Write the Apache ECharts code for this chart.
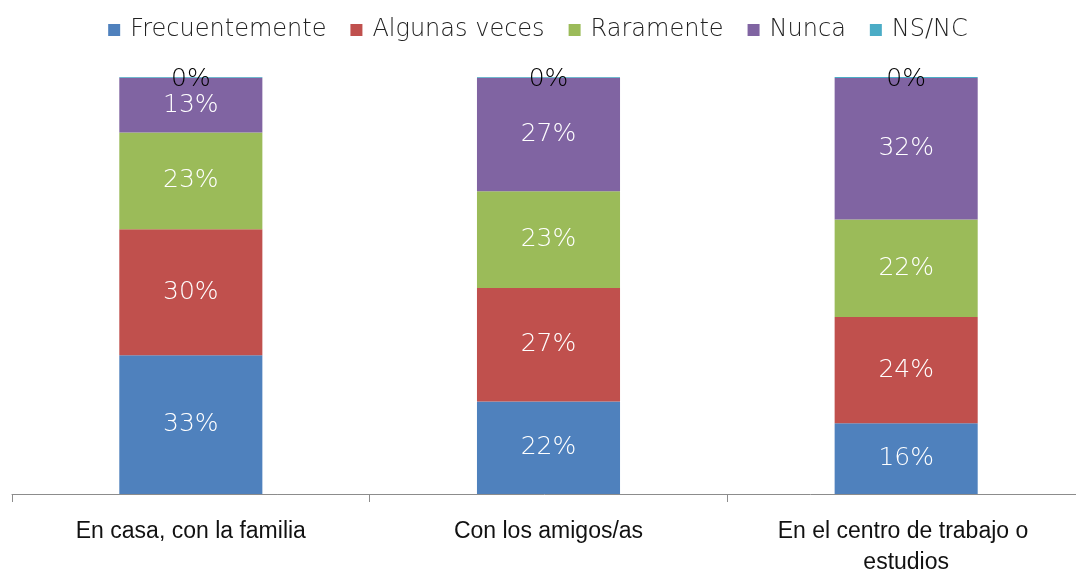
<!DOCTYPE html>
<html>
<head>
<meta charset="utf-8">
<script src="https://cdn.jsdelivr.net/npm/echarts@6/dist/echarts.min.js"></script>
<style>
  html, body { margin: 0; padding: 0; background: #fff; }
  #chart { width: 1076px; height: 571px; }
</style>
</head>
<body>
<div id="chart"></div>
<script>
// categorias del eje
var categories = ['En casa, con la familia', 'Con los amigos/as', 'En el centro de trabajo o estudios'];
// porcentajes por serie (tal como se leen en las etiquetas)
var frecuentemente = [33, 22, 16];
var algunasVeces = [30, 27, 24];
var raramente = [23, 23, 22];
var nunca = [13, 27, 32];
var nsnc = [0.2, 0.2, 0.2];

var seriesNames = ['Frecuentemente', 'Algunas veces', 'Raramente', 'Nunca', 'NS/NC'];
var seriesValues = [frecuentemente, algunasVeces, raramente, nunca, nsnc];
var colors = ['#4f81bd', '#c0504d', '#9bbb59', '#8064a2', '#4bacc6'];

// la barra se dibuja al 100%
var totals = categories.map(function (c, i) {
  var s = 0;
  for (var k = 0; k < seriesValues.length; k++) s += seriesValues[k][i];
  return s;
});

var labelFont = '"DejaVu Sans", sans-serif';

var series = seriesNames.map(function (name, k) {
  var last = k === seriesNames.length - 1;
  return {
    name: name,
    type: 'bar',
    stack: 'total',
    barWidth: '40%',
    itemStyle: { color: colors[k] },
    label: {
      show: true,
      position: 'inside',
      offset: last ? [0, 2] : [0, 0],
      color: last ? '#000000' : '#ffffff',
      fontSize: 25,
      fontFamily: labelFont,
      fontWeight: 300,
      formatter: function (p) {
        return Math.round(seriesValues[k][p.dataIndex]) + '%';
      }
    },
    data: seriesValues[k].map(function (v, i) {
      return v / totals[i] * 100;
    })
  };
});

var myChart = echarts.init(document.getElementById('chart'));
var option = {
  animation: false,
  color: colors,
  legend: {
    data: seriesNames,
    top: 13,
    left: 'center',
    icon: 'rect',
    itemWidth: 12,
    itemHeight: 12,
    itemGap: 24,
    textStyle: {
      color: '#222',
      fontSize: 24,
      fontFamily: labelFont,
      fontWeight: 300,
      padding: [0, 0, 0, 5]
    }
  },
  grid: {
    left: 12,
    top: 77,
    width: 1073,
    height: 417,
    outerBoundsMode: 'none',
    containLabel: false
  },
  xAxis: {
    type: 'category',
    data: categories,
    axisLine: { lineStyle: { color: '#8c8c8c', width: 1 } },
    axisTick: { show: true, length: 8, lineStyle: { color: '#8c8c8c' } },
    axisLabel: {
      fontSize: 23,
      color: '#111',
      fontFamily: '"Liberation Sans", "Open Sans", sans-serif',
      margin: 22,
      lineHeight: 31,
      width: 300,
      overflow: 'break',
      interval: 0
    }
  },
  yAxis: {
    type: 'value',
    min: 0,
    max: 100,
    show: false
  },
  series: series
};
myChart.setOption(option);
</script>
</body>
</html>
